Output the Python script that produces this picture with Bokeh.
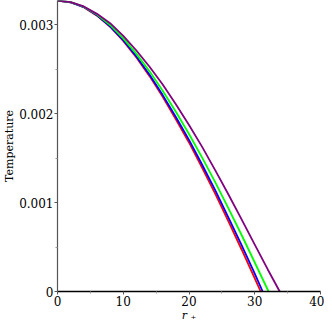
from bokeh.plotting import figure
from bokeh.models import FixedTicker, Range1d
from bokeh.embed import file_html
from bokeh.resources import INLINE

# r_+ sample positions and Temperature readings for each curve
r_red = [0, 2, 4, 6, 8, 10, 12, 14, 16, 18, 20, 22, 24, 26, 28, 30, 30.9]
t_red = [0.00327, 0.00325, 0.003195, 0.0031, 0.002975, 0.002815, 0.002629, 0.00242,
         0.002187, 0.001936, 0.001675, 0.00139, 0.001098, 0.000788, 0.000472, 0.000147, 0.0]

r_blue = [0, 2, 4, 6, 8, 10, 12, 14, 16, 18, 20, 22, 24, 26, 28, 30, 31.2]
t_blue = [0.00327, 0.00325, 0.003196, 0.003103, 0.00298, 0.002824, 0.002641, 0.002436,
          0.002207, 0.001961, 0.001704, 0.001424, 0.001136, 0.000831, 0.00052, 0.000201, 0.0]

r_green = [0, 2, 4, 6, 8, 10, 12, 14, 16, 18, 20, 22, 24, 26, 28, 30, 32.1]
t_green = [0.00327, 0.003251, 0.0032, 0.003112, 0.002995, 0.002845, 0.00267, 0.002474,
           0.002256, 0.002019, 0.00177, 0.001505, 0.001227, 0.000935, 0.000635, 0.000326, 0.0]

r_purple = [0, 2, 4, 6, 8, 10, 12, 14, 16, 18, 20, 22, 24, 26, 28, 30, 32, 33.8]
t_purple = [0.00327, 0.003252, 0.003203, 0.00312, 0.003015, 0.002872, 0.002708, 0.002525,
            0.002327, 0.002105, 0.001871, 0.001625, 0.001361, 0.00109, 0.00081, 0.000527,
            0.000245, 0.0]

x_ticks = [0, 10, 20, 30, 40]
y_ticks = [0, 0.001, 0.002, 0.003]
y_tick_labels = ["0", "0.001", "0.002", "0.003"]

p = figure(width=324, height=324, output_backend="svg", toolbar_location=None,
           x_range=Range1d(0, 40), y_range=Range1d(0, 0.00327),
           min_border_left=50, min_border_right=4, min_border_top=0, min_border_bottom=30)
p.outline_line_color = None
p.xgrid.visible = False
p.ygrid.visible = False
p.background_fill_color = "white"

series = [(r_red, t_red, "#ff0000"), (r_blue, t_blue, "#0000ff"),
          (r_green, t_green, "#00ff00"), (r_purple, t_purple, "#800080")]
for xs, ys, c in series:
    p.line(xs, ys, line_color=c, line_width=1.8)

font = "DejaVu Serif"
p.xaxis.ticker = FixedTicker(ticks=x_ticks, minor_ticks=[5, 15, 25, 35])
p.yaxis.ticker = FixedTicker(ticks=y_ticks, minor_ticks=[0.0005, 0.0015, 0.0025])
p.yaxis.major_label_overrides = {t: s for t, s in zip(y_ticks, y_tick_labels)}
p.xaxis.major_label_overrides = {t: str(t) for t in x_ticks}

for ax in (p.xaxis, p.yaxis):
    ax.major_label_text_font = font
    ax.major_label_text_font_size = "12px"
    ax.major_label_text_color = "black"
    ax.axis_label_text_font = font
    ax.axis_label_text_font_size = "11px"
    ax.axis_label_text_color = "black"
    ax.major_tick_in = 0
    ax.major_tick_out = 3
    ax.minor_tick_in = 0
    ax.minor_tick_out = 2
    ax.major_tick_line_color = "#555555"
    ax.minor_tick_line_color = "#999999"
    ax.major_label_standoff = 1
    ax.axis_label_standoff = 0

p.xaxis.axis_line_color = "black"
p.xaxis.axis_line_width = 1.5
p.yaxis.axis_line_color = "#555555"
p.yaxis.axis_line_width = 1.2

p.yaxis.axis_label = "Temperature"
p.yaxis.axis_label_text_font_style = "normal"
p.xaxis.axis_label = "r ₊"
p.xaxis.axis_label_text_font_style = "italic"

open("out.html", "w").write(file_html(p, INLINE))
